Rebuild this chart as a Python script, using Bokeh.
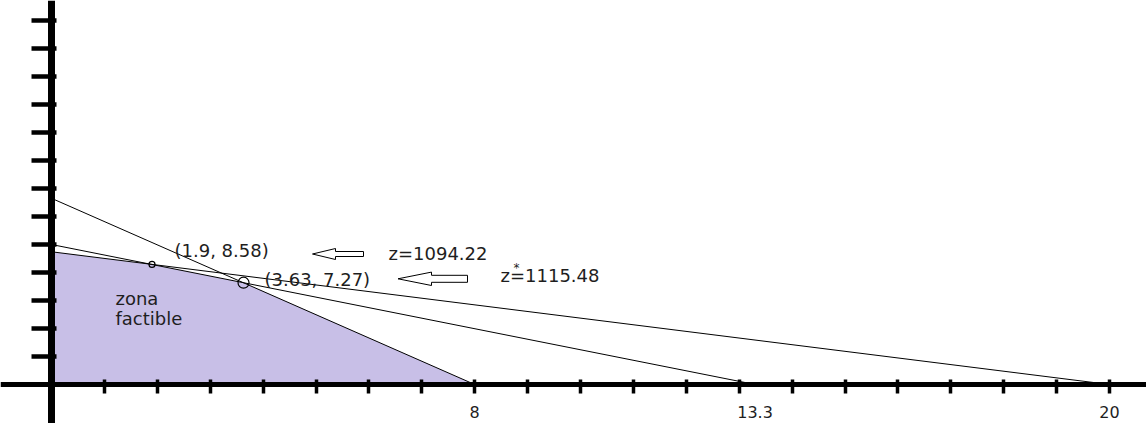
from bokeh.plotting import figure
from bokeh.models import Range1d, LinearAxis, FixedTicker, CustomJSTickFormatter
from bokeh.core.properties import value
from bokeh.embed import file_html
from bokeh.resources import INLINE

# ---------------- data ----------------
x_intercepts = [8, 13.3, 20]          # constraint lines: x-axis intercepts
y_intercepts = [13.3, 10, 9.48]       # constraint lines: y-axis intercepts
region_x = [0, 0, 1.9, 3.63, 8]       # feasible region vertices
region_y = [0, 9.48, 8.58, 7.27, 0]
point_x = [1.9, 3.63]
point_y = [8.58, 7.27]
point_labels = ["(1.9, 8.58)", "(3.63, 7.27)"]
z_labels = ["z=1094.22", "z=1115.48"]
region_label = "zona\nfactible"
x_tick_marks = list(range(1, 21))
x_tick_values = [8, 13.3, 20]
x_tick_labels = ["8", "13.3", "20"]
y_tick_marks = list(range(2, 27, 2))

# ---------------- layout constants ----------------
W, H = 1146, 423
PX_X, PX_Y = 52.9, 14.0          # pixels per data unit
ORIGIN_X, ORIGIN_Y = 51, 384     # data origin inside the frame (px from left / top)
FONT = value("DejaVu Sans")
TXT = "#1e1e1e"

x_start = -ORIGIN_X / PX_X
y_end = ORIGIN_Y / PX_Y


def dx(px):   # frame pixel -> data x
    return (px - ORIGIN_X) / PX_X


def dy(py):   # frame pixel -> data y
    return (ORIGIN_Y - py) / PX_Y


p = figure(width=W, height=H,
           x_range=Range1d(x_start, x_start + W / PX_X),
           y_range=Range1d(y_end - H / PX_Y, y_end),
           x_axis_location=None, y_axis_location=None,
           toolbar_location=None, output_backend="svg",
           min_border=0, background_fill_color="white")
p.outline_line_color = None
for g in p.grid:
    g.visible = False

# feasible region
p.patch(region_x, region_y, fill_color="#c8bfe7", line_color=None)

# constraint lines
p.segment(x0=[0] * len(y_intercepts), y0=y_intercepts,
          x1=x_intercepts, y1=[0] * len(x_intercepts),
          line_color="black", line_width=1)

# corner points
p.scatter(point_x, point_y, size=[6, 11], fill_color=None,
          line_color="black", line_width=1.2)

# hollow arrows pointing left
def arrow(tip_x, tip_y, head_x, tail_x, head_half, shaft_half):
    xs = [tip_x, head_x, head_x, tail_x, tail_x, head_x, head_x]
    ys = [tip_y, tip_y - head_half, tip_y - shaft_half, tip_y - shaft_half,
          tip_y + shaft_half, tip_y + shaft_half, tip_y + head_half]
    return [dx(v) for v in xs], [dy(v) for v in ys]

a1 = arrow(312, 253.5, 335, 363, 5.5, 2.5)
a2 = arrow(397.5, 278.3, 431, 467, 6.7, 3.5)
p.patches([a1[0], a2[0]], [a1[1], a2[1]], fill_color="white",
          line_color="black", line_width=1)

# texts
p.text(x=[dx(174), dx(264)], y=[dy(250), dy(279)], text=point_labels,
       text_font=FONT, text_font_size="18px", text_color=TXT,
       text_align="left", text_baseline="middle")
p.text(x=[dx(388), dx(500)], y=[dy(253), dy(275)], text=z_labels,
       text_font=FONT, text_font_size="18px", text_color=TXT,
       text_align="left", text_baseline="middle")
p.text(x=[dx(516)], y=[dy(267)], text=["*"],
       text_font=FONT, text_font_size="12px", text_color=TXT,
       text_align="center", text_baseline="middle")
p.text(x=[dx(115)], y=[dy(308)], text=[region_label],
       text_font=FONT, text_font_size="18px", text_color=TXT,
       text_align="left", text_baseline="middle", text_line_height=0.95)

# axes through the origin
blank = CustomJSTickFormatter(code="return '';")
xaxis = LinearAxis(fixed_location=0, ticker=FixedTicker(ticks=x_tick_marks),
                   formatter=blank, axis_line_width=5, axis_line_color="black",
                   major_tick_out=9, major_tick_in=5, major_tick_line_width=3.5,
                   major_tick_line_color="black",
                   minor_tick_out=0, minor_tick_in=0)
p.add_layout(xaxis, "below")

xlab = LinearAxis(fixed_location=0, ticker=FixedTicker(ticks=x_tick_values),
                  formatter=CustomJSTickFormatter(
                      args=dict(tv=x_tick_values, tl=x_tick_labels),
                      code="const i = tv.findIndex(t => Math.abs(t - tick) < 1e-6); return i >= 0 ? tl[i] : '';"),
                  axis_line_color=None, major_tick_line_color=None,
                  minor_tick_line_color=None, major_tick_out=0, major_tick_in=0,
                  minor_tick_out=0, minor_tick_in=0,
                  major_label_standoff=21,
                  major_label_text_font="DejaVu Sans",
                  major_label_text_font_size="16px",
                  major_label_text_color=TXT)
p.add_layout(xlab, "below")

yaxis = LinearAxis(fixed_location=0, ticker=FixedTicker(ticks=y_tick_marks),
                   formatter=blank, axis_line_width=7, axis_line_color="black",
                   major_tick_out=20, major_tick_in=5, major_tick_line_width=4.5,
                   major_tick_line_color="black",
                   minor_tick_out=0, minor_tick_in=0)
p.add_layout(yaxis, "left")

open("out.html", "w").write(file_html(p, INLINE))
